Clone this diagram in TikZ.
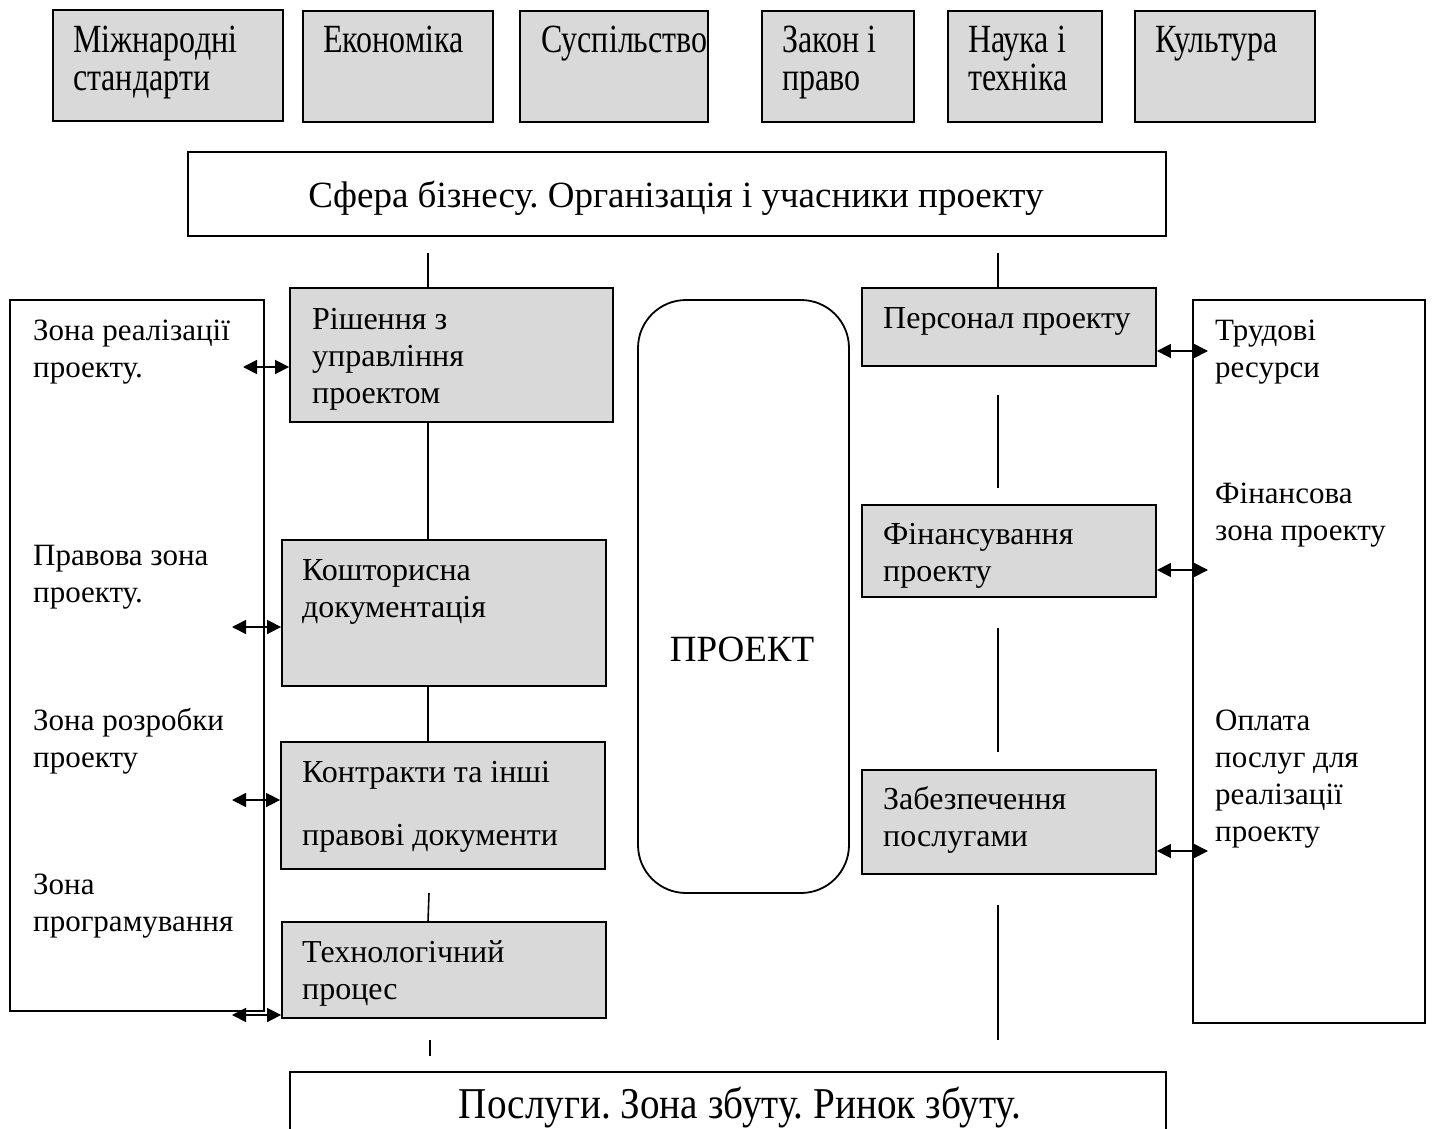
\documentclass[tikz,border=0pt]{standalone}
\usepackage{fontspec}
\setmainfont{Liberation Serif}
\newfontfamily\condfont[FakeStretch=0.80]{Liberation Serif}
\newfontfamily\condfontb[FakeStretch=0.89]{Liberation Serif}
\usetikzlibrary{arrows.meta}
\definecolor{boxgray}{HTML}{D9D9D9}
\frenchspacing
\begin{document}
\begin{tikzpicture}[x=1pt,y=-1pt,
  gbox/.style={draw, line width=1.8pt, fill=boxgray, inner sep=0},
  wbox/.style={draw, line width=1.8pt, fill=white, inner sep=0},
  txt/.style={anchor=base west, align=left, inner sep=0, font=\fontsize{31}{37}\selectfont},
  gtxt/.style={anchor=base west, align=left, inner sep=0, font=\fontsize{32}{37}\selectfont},
  toptxt/.style={anchor=base west, align=left, inner sep=0, font=\condfont\fontsize{40}{38}\selectfont},
  bigtxt/.style={anchor=base, inner sep=0, font=\fontsize{37}{40}\selectfont},
  conn/.style={line width=1.6pt},
  dbl/.style={line width=1.6pt, {Triangle[length=14pt,width=14pt]}-{Triangle[length=14pt,width=14pt]}}
]
\useasboundingbox (0,0) rectangle (1432,1129);
% top boxes
\node[gbox, minimum width=230, minimum height=111] (b1) at (168,65.5) {};
\node[gbox, minimum width=190, minimum height=111] (b2) at (398,66.5) {};
\node[gbox, minimum width=188, minimum height=111] (b3) at (614,66.5) {};
\node[gbox, minimum width=152, minimum height=111] (b4) at (838,66.5) {};
\node[gbox, minimum width=154, minimum height=111] (b5) at (1025,66.5) {};
\node[gbox, minimum width=180, minimum height=111] (b6) at (1225,66.5) {};
\node[toptxt] (t1) at (73,91) {Міжнародні\\стандарти};
\node[toptxt] (t2) at (323,53) {Економіка};
\node[toptxt] (t3) at (541,53) {Суспільство};
\node[toptxt] (t4) at (782,91) {Закон і\\право};
\node[toptxt] (t5) at (968,91) {Наука і\\техніка};
\node[toptxt] (t6) at (1155,53) {Культура};
% business sphere
\node[wbox, minimum width=978, minimum height=84] (sf) at (677,194) {};
\node[bigtxt] (sft) at (676,207) {Сфера бізнесу. Організація і учасники проекту};
% bottom
\node[wbox, minimum width=876, minimum height=90] (ps) at (728,1117) {};
\node[bigtxt, font=\condfontb\fontsize{44}{48}\selectfont] (pst) at (740,1118) {Послуги. Зона збуту. Ринок збуту.};
% side boxes
\node[wbox, minimum width=254, minimum height=711] (lz) at (137,655.5) {};
\node[wbox, minimum width=232, minimum height=723] (rz) at (1309,661.5) {};
% project
\node[draw, line width=1.8pt, rounded corners=48pt, minimum width=211, minimum height=593, inner sep=0] (pr) at (743.5,596.5) {};
\node[bigtxt] (prt) at (742,661) {ПРОЕКТ};
% left gray
\node[gbox, minimum width=323, minimum height=134] (g1) at (451.5,355) {};
\node[gbox, minimum width=324, minimum height=146] (g2) at (444,613) {};
\node[gbox, minimum width=324, minimum height=127] (g3) at (443,805.5) {};
\node[gbox, minimum width=324, minimum height=96] (g4) at (444,970) {};
% right gray
\node[gbox, minimum width=294, minimum height=78] (r1) at (1009,327) {};
\node[gbox, minimum width=294, minimum height=92] (r2) at (1009,551) {};
\node[gbox, minimum width=294, minimum height=104] (r3) at (1009,822) {};
% texts (anchor = baseline of the last line)
\node[txt] (lt1) at (33,377) {Зона реалізації\\проекту.};
\node[txt] (lt2) at (33,602) {Правова зона\\проекту.};
\node[txt] (lt3) at (33,767) {Зона розробки\\проекту};
\node[txt] (lt4) at (33,931) {Зона\\програмування};
\node[txt] (rt1) at (1215,377) {Трудові\\ресурси};
\node[txt] (rt2) at (1215,540) {Фінансова\\зона проекту};
\node[txt] (rt3) at (1215,841) {Оплата\\послуг для\\реалізації\\проекту};
\node[gtxt] (g1t) at (312,403) {Рішення з\\управління\\проектом};
\node[gtxt] (g2t) at (302,617) {Кошторисна\\документація};
\node[gtxt] (g3t) at (302,782) {Контракти та інші};
\node[gtxt] (g3u) at (302,845) {правові документи};
\node[gtxt] (g4t) at (302,999) {Технологічний\\процес};
\node[gtxt] (r1t) at (883,328) {Персонал проекту};
\node[gtxt] (r2t) at (883,581) {Фінансування\\проекту};
\node[gtxt] (r3t) at (883,846) {Забезпечення\\послугами};
% connectors left column
\coordinate (la) at (428,253);
\coordinate (ld) at (429,893);
\coordinate (le) at (428,922);
\coordinate (lb) at (430,1040);
\coordinate (lc) at (430,1056);
\draw[conn] (la) -- (g1.north -| la);
\draw[conn] (g1.south -| la) -- (g2.north -| la);
\draw[conn] (g2.south -| la) -- (g3.north -| la);
\draw[conn] (ld) -- (le);
\draw[conn] (lb) -- (lc);
% connectors right column
\coordinate (ra) at (998,253);
\coordinate (ra2) at (998,287);
\coordinate (rb) at (998,395);
\coordinate (rb2) at (998,488);
\coordinate (rc) at (998,628);
\coordinate (rc2) at (998,752);
\coordinate (rd) at (998,905);
\coordinate (rd2) at (998,1040);
\draw[conn] (ra) -- (ra2);
\draw[conn] (rb) -- (rb2);
\draw[conn] (rc) -- (rc2);
\draw[conn] (rd) -- (rd2);
% arrows left
\coordinate (al1) at (243,367);
\coordinate (al2) at (232,627);
\coordinate (al3) at (232,800);
\coordinate (al4) at (232,1015);
\draw[dbl] (al1) -- (al1 -| g1.west);
\draw[dbl] (al2) -- (al2 -| g2.west);
\draw[dbl] (al3) -- (al3 -| g3.west);
\draw[dbl] (al4) -- (al4 -| g4.west);
% arrows right
\coordinate (ar1) at (1208,351);
\coordinate (ar2) at (1208,570);
\coordinate (ar3) at (1208,851);
\draw[dbl] (ar1 -| r1.east) -- (ar1);
\draw[dbl] (ar2 -| r2.east) -- (ar2);
\draw[dbl] (ar3 -| r3.east) -- (ar3);
\end{tikzpicture}
\end{document}
